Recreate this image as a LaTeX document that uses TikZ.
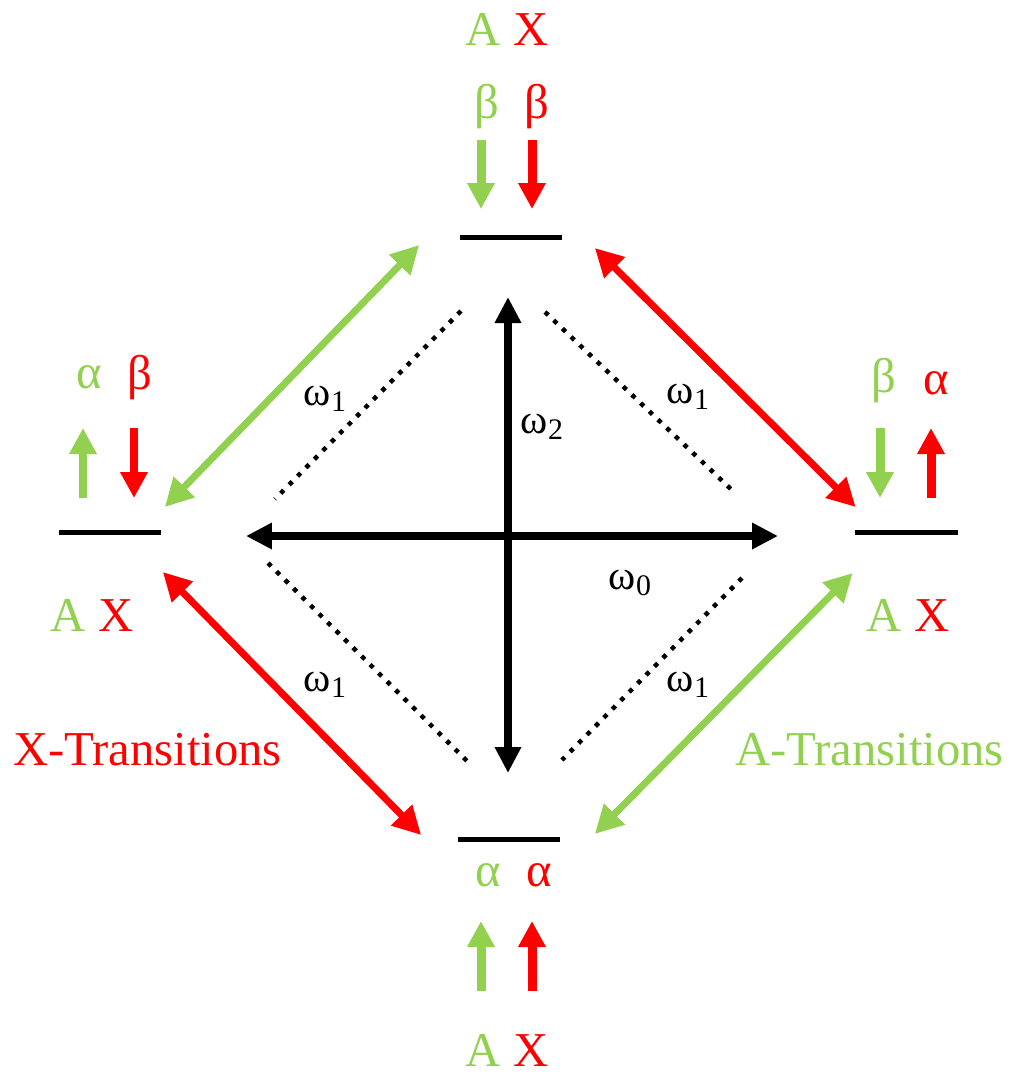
\documentclass[tikz,border=0pt]{standalone}
\usepackage{fontspec}
\setmainfont{Liberation Serif}
\usepackage{xcolor}
\usepackage{tikz}
\usetikzlibrary{arrows.meta, positioning}

\definecolor{agreen}{RGB}{146,208,80}
\definecolor{xred}{RGB}{255,0,0}
\newcommand{\wlabel}[1]{ω\raisebox{-0.12cm}{\fontsize{17}{17}\selectfont #1}}

\begin{document}
\begin{tikzpicture}[
    x=0.02cm, y=-0.02cm,
    level/.style={rectangle, fill=black, minimum width=2.06cm, minimum height=0.1cm, inner sep=0pt},
    big/.style={inner sep=0pt, font=\fontsize{27.7}{30}\selectfont},
    freq/.style={inner sep=0pt, font=\fontsize{23.5}{26}\selectfont},
    trans/.style={line width=0.14cm, {Triangle[length=0.56cm, width=0.56cm]}-{Triangle[length=0.56cm, width=0.56cm]}},
    axis/.style={line width=0.16cm, {Triangle[length=0.52cm, width=0.5cm]}-{Triangle[length=0.52cm, width=0.5cm]}},
    spin/.style={line width=0.18cm, -{Triangle[length=0.52cm, width=0.52cm]}},
    dots/.style={line width=0.09cm, dash pattern=on 0.09cm off 0.15cm}
]
    \useasboundingbox (0,0) rectangle (1011,1073);

    % energy levels
    \node[level] (top) at (511,237) {};
    \node[level] (left) at (110,532) {};
    \node[level] (right) at (906.5,532) {};
    \node[level] (bottom) at (509,839) {};

    % level labels
    \node[big] (top_ax) at (507,29) {\textcolor{agreen}{A} \textcolor{xred}{X}};
    \node[big, text=agreen] (top_a) at (487,107) {β};
    \node[big, text=xred] (top_x) at (537,107) {β};
    \node[big] (left_ax) at (92,615) {\textcolor{agreen}{A} \textcolor{xred}{X}};
    \node[big, text=agreen] (left_a) at (89,377) {α};
    \node[big, text=xred] (left_x) at (140,378) {β};
    \node[big] (right_ax) at (908,615) {\textcolor{agreen}{A} \textcolor{xred}{X}};
    \node[big, text=agreen] (right_a) at (884,381) {β};
    \node[big, text=xred] (right_x) at (936,383) {α};
    \node[big] (bottom_ax) at (507,1050) {\textcolor{agreen}{A} \textcolor{xred}{X}};
    \node[big, text=agreen] (bottom_a) at (488,875) {α};
    \node[big, text=xred] (bottom_x) at (539,875) {α};

    % spins
    \draw[spin, agreen] ([shift={(-30,-97)}]top.center) -- ++(0,69);
    \draw[spin, xred] ([shift={(21,-97)}]top.center) -- ++(0,69);
    \draw[spin, agreen] ([shift={(-27,-34)}]left.center) -- ++(0,-70);
    \draw[spin, xred] ([shift={(24,-104)}]left.center) -- ++(0,70);
    \draw[spin, agreen] ([shift={(-26.5,-104)}]right.center) -- ++(0,70);
    \draw[spin, xred] ([shift={(24.5,-34)}]right.center) -- ++(0,-70);
    \draw[spin, agreen] ([shift={(-28,152)}]bottom.center) -- ++(0,-70);
    \draw[spin, xred] ([shift={(23,152)}]bottom.center) -- ++(0,-70);

    % transitions
    \draw[trans, agreen] ([shift={(3,-25)}]left.east) -- ([shift={(-40,8)}]top.west);
    \draw[trans, xred] ([shift={(32,11)}]top.east) -- ([shift={(1,-25)}]right.west);
    \draw[trans, xred] ([shift={(1,40)}]left.east) -- ([shift={(-36,-4)}]bottom.west);
    \draw[trans, agreen] ([shift={(-2,41)}]right.west) -- ([shift={(34,-5)}]bottom.east);

    % frequency axes
    \coordinate (w0_l) at (246,536);
    \coordinate (w0_r) at (778,536);
    \coordinate (w2_t) at (508,297);
    \coordinate (w2_b) at (508,773);
    \draw[axis] (w0_l) -- (w0_r);
    \draw[axis] (w2_t) -- (w2_b);

    \draw[dots] (461,311) -- (275,499);
    \draw[dots] (545,312) -- (735,493);
    \draw[dots] (268,563) -- (468,762);
    \draw[dots] (742,578) -- (562,760);

    \node[freq] (w1_tl) at (325,399) {\wlabel{1}};
    \node[freq] (w1_tr) at (688,397) {\wlabel{1}};
    \node[freq] (w2) at (542,427) {\wlabel{2}};
    \node[freq] (w0) at (630,583) {\wlabel{0}};
    \node[freq] (w1_bl) at (325,685) {\wlabel{1}};
    \node[freq] (w1_br) at (688,685) {\wlabel{1}};

    \node[big, text=xred] (x_trans) at (147.5,750) {X-Transitions};
    \node[big, text=agreen] (a_trans) at (869.5,750) {A-Transitions};
\end{tikzpicture}
\end{document}
